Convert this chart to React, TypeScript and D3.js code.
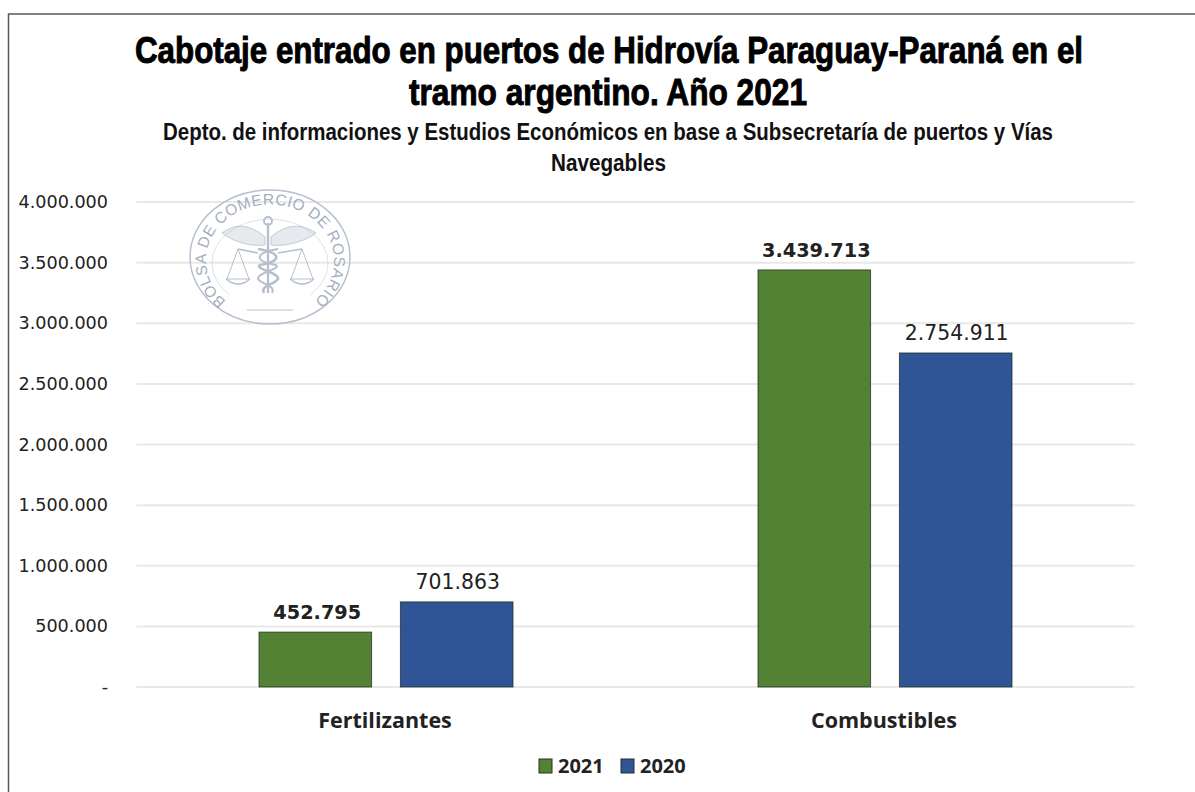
import React from "react";
import * as d3 from "d3";

const categories = ["Fertilizantes", "Combustibles"];
const seriesNames = ["2021", "2020"];
const values2021 = [452795, 3439713];
const values2020 = [701863, 2754911];
const yTicks = [0, 500000, 1000000, 1500000, 2000000, 2500000, 3000000, 3500000, 4000000];
const titleLines = ["Cabotaje entrado en puertos de Hidrovía Paraguay-Paraná en el", "tramo argentino. Año 2021"];
const subtitleLines = ["Depto. de informaciones y Estudios Económicos en base a Subsecretaría de puertos y Vías", "Navegables"];
const colors = ["#548235", "#2F5597"];

const fmt = (v: number) => {
  if (v === 0) return "-";
  return d3.format(",")(v).replace(/,/g, ".");
};

const Logo = () => {
  const c = "#b6bfce";
  return (
    <g transform="translate(270,257)" fill="none" stroke={c}>
      <ellipse rx={80} ry={67} strokeWidth={1.4} />
      <defs>
        <path id="seal" d="M -43 45 A 64 56 0 1 1 43 45" />
      </defs>
      <text fontFamily="'Liberation Sans'" fontSize={15.5} fill="#a3adc0" stroke="none" letterSpacing={0.5}>
        <textPath href="#seal" startOffset="50%" textAnchor="middle">BOLSA DE COMERCIO DE ROSARIO</textPath>
      </text>
      <path d="M -40 38 A 58 44 0 1 1 40 38" strokeWidth={0.8} opacity={0.6} />
      {/* caduceus */}
      <line x1={-2} y1={-34} x2={-2} y2={36} strokeWidth={2.4} />
      <circle cx={-2} cy={-36} r={4} strokeWidth={2} />
      <path d="M -5 -20 C -20 -33 -35 -34 -48 -24 C -38 -16 -20 -10 -5 -12 Z" fill={c} fillOpacity={0.35} strokeWidth={0.8} />
      <path d="M 1 -20 C 16 -33 31 -34 46 -24 C 36 -16 16 -10 1 -12 Z" fill={c} fillOpacity={0.35} strokeWidth={0.8} />
      <path d="M -12 -8 C 12 -4 12 4 -10 8 C -16 12 10 16 8 22 C 4 28 -10 28 -6 36" strokeWidth={2.6} />
      <path d="M 8 -8 C -16 -4 -16 4 6 8 C 12 12 -14 16 -12 22 C -8 28 6 28 2 36" strokeWidth={2} />
      {/* scales */}
      <path d="M -12 -4 L -32 -8 M 8 -4 L 32 -8" strokeWidth={1.6} />
      <path d="M -32 -8 L -43 22 M -32 -8 L -21 22 M -44 22 H -20 M 32 -8 L 21 22 M 32 -8 L 43 22 M 20 22 H 44" strokeWidth={1} />
      <path d="M -44 22 Q -32 32 -20 22 M 20 22 Q 32 32 44 22" strokeWidth={1.6} />
      <path d="M -23 53 H 23" strokeWidth={1} />
    </g>
  );
};

export default function App() {
  const width = 1195;
  const height = 792;
  const y = d3.scaleLinear().domain([0, 4000000]).range([687, 202]);
  const x0 = d3.scaleBand<string>().domain(categories).range([136.5, 1134.5]);
  const x1 = d3.scaleBand<string>().domain(seriesNames).range([-127, 127]).paddingInner(0.204);
  const series = [values2021, values2020];
  const body = "'DejaVu Sans'";
  const side = "'Open Sans'";
  const cond = "'Liberation Sans'";
  return (
    <svg width={width} height={height} style={{ position: "absolute", left: 0, top: 0, background: "#fff" }}>
      <path d="M 8.5 792 V 14 H 1195" fill="none" stroke="#595959" strokeWidth={1.5} />
      {yTicks.map((t) => (
        <line key={t} x1={136.5} x2={1134.5} y1={y(t)} y2={y(t)} stroke="#e8e8e8" strokeWidth={2} />
      ))}
      <Logo />
      {titleLines.map((l, i) => (
        <text key={l} transform={`translate(${[135, 409][i]},${[63, 105][i]}) scale(1,1.06)`} textLength={[948, 398][i]} lengthAdjust="spacingAndGlyphs"
          fontFamily={cond} fontWeight={700} fontSize={35} stroke="#000" strokeWidth={0.9} fill="#000">{l}</text>
      ))}
      {subtitleLines.map((l, i) => (
        <text key={l} x={[163, 551][i]} y={[140, 171][i]} textLength={[890, 115][i]} lengthAdjust="spacingAndGlyphs"
          fontFamily={cond} fontWeight={700} fontSize={23} fill="#111">{l}</text>
      ))}
      {yTicks.map((t) => (
        <text key={t} x={108} y={y(t) + 6} textAnchor="end" fontFamily={body} fontSize={17.6} fill="#222">{fmt(t)}</text>
      ))}
      {categories.map((cat, ci) => {
        const cx = x0(cat)! + x0.bandwidth() / 2;
        return (
          <g key={cat}>
            {seriesNames.map((s, si) => {
              const v = series[si][ci];
              const bx = cx + x1(s)!;
              return (
                <g key={s}>
                  <rect x={bx} y={y(v)} width={x1.bandwidth()} height={y(0) - y(v)} fill={colors[si]} stroke="#1f2a20" strokeOpacity={0.75} strokeWidth={1} />
                  <text x={bx + x1.bandwidth() / 2 + (si === 0 ? 2 : 1)} y={y(v) - 13} textAnchor="middle" fontFamily={body}
                    fontSize={si === 0 ? 19.3 : 20.4} fontWeight={si === 0 ? 700 : 400} fill="#222">{fmt(v)}</text>
                </g>
              );
            })}
            <text x={cx - 1} y={728} textAnchor="middle" fontFamily={side} fontWeight={700} fontSize={21.5} fill="#222">{cat}</text>
          </g>
        );
      })}
      {seriesNames.map((s, i) => {
        const lx = [539, 621][i];
        return (
          <g key={s}>
            <rect x={lx} y={759} width={13} height={14} fill={colors[i]} stroke="#2a2f2a" strokeWidth={1} />
            <text x={lx + 19} y={773} fontFamily={side} fontWeight={700} fontSize={20} fill="#222">{s}</text>
          </g>
        );
      })}
    </svg>
  );
}
